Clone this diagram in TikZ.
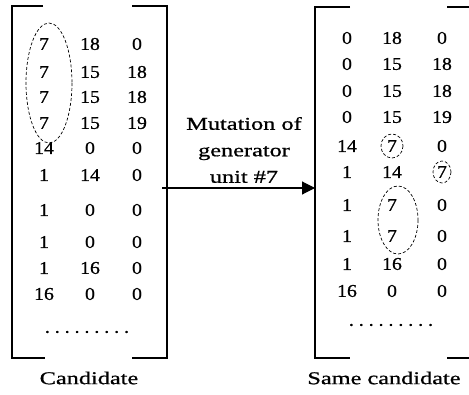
\documentclass[tikz,border=0pt]{standalone}
\usepackage{fontspec}
\setmainfont{Liberation Serif}
\newfontfamily\numfont[FakeStretch=1.1,FakeBold=0.8]{Liberation Serif}
\newfontfamily\labfont[FakeStretch=1.35,FakeBold=0.8]{Liberation Serif}
\usetikzlibrary{arrows.meta}

\begin{document}
\begin{tikzpicture}[x=1pt,y=-1pt,
  entry/.style={font=\numfont\fontsize{18}{22}\selectfont, inner sep=0pt, anchor=center},
  caption/.style={font=\labfont\fontsize{18}{26.5}\selectfont, inner sep=0pt, align=center},
  bracket/.style={line width=1.8pt},
  ring/.style={draw, dash pattern=on 3pt off 2pt, line width=0.7pt},
  link/.style={line width=1.1pt, -{Triangle[length=13pt,width=13pt]}}]
\useasboundingbox (0,0) rectangle (469,394);

% candidate matrix
\foreach \y/\r/\a/\b/\c in {44/1/7/18/0, 72/2/7/15/18, 97/3/7/15/18, 123/4/7/15/19,
    148/5/14/0/0, 175/6/1/14/0, 210/7/1/0/0, 242/8/1/0/0, 268/9/1/16/0, 294/10/16/0/0}{
  \node[entry] (L-\r-1) at (44,\y) {\a};
  \node[entry] (L-\r-2) at (90,\y) {\b};
  \node[entry] (L-\r-3) at (137,\y) {\c};
}
\node[entry] (Ldots) at (87,332) {.\ .\ .\ .\ .\ .\ .\ .\ .};

% mutated matrix
\foreach \y/\r/\a/\b/\c in {38/1/0/18/0, 64/2/0/15/18, 91/3/0/15/18, 117/4/0/15/19,
    146/5/14/7/0, 172/6/1/14/7, 205/7/1/7/0, 236/8/1/7/0, 264/9/1/16/0, 291/10/16/0/0}{
  \node[entry] (R-\r-1) at (347,\y) {\a};
  \node[entry] (R-\r-2) at (392,\y) {\b};
  \node[entry] (R-\r-3) at (442,\y) {\c};
}
\node[entry] (Rdots) at (391,325) {.\ .\ .\ .\ .\ .\ .\ .\ .};

% brackets
\draw[bracket] (43,6) -| (12,358) -- (45,358);
\draw[bracket] (132,6) -| (167,358) -- (132,358);
\draw[bracket] (350,7) -| (315,358) -- (350,358);
\draw[bracket] (447,7) -- (469,7);
\draw[bracket] (447,358) -- (469,358);

% dashed rings around the generator unit #7 entries
\draw[ring] (49,83) ellipse [x radius=23, y radius=60];
\draw[ring] (R-5-2) ellipse [x radius=11, y radius=12];
\draw[ring] (R-6-3) ellipse [x radius=9, y radius=11];
\draw[ring] (398,220) ellipse [x radius=20, y radius=34];

% mutation arrow
\coordinate (src) at (162,188);
\coordinate (dst) at (315,188);
\draw[link] (src) -- (dst);
\node[caption] (mut) at (244,150) {Mutation of\\generator\\unit \#7};

% captions
\node[caption] (capL) at (89,378) {Candidate};
\node[caption] (capR) at (384,378) {Same candidate};
\end{tikzpicture}
\end{document}
